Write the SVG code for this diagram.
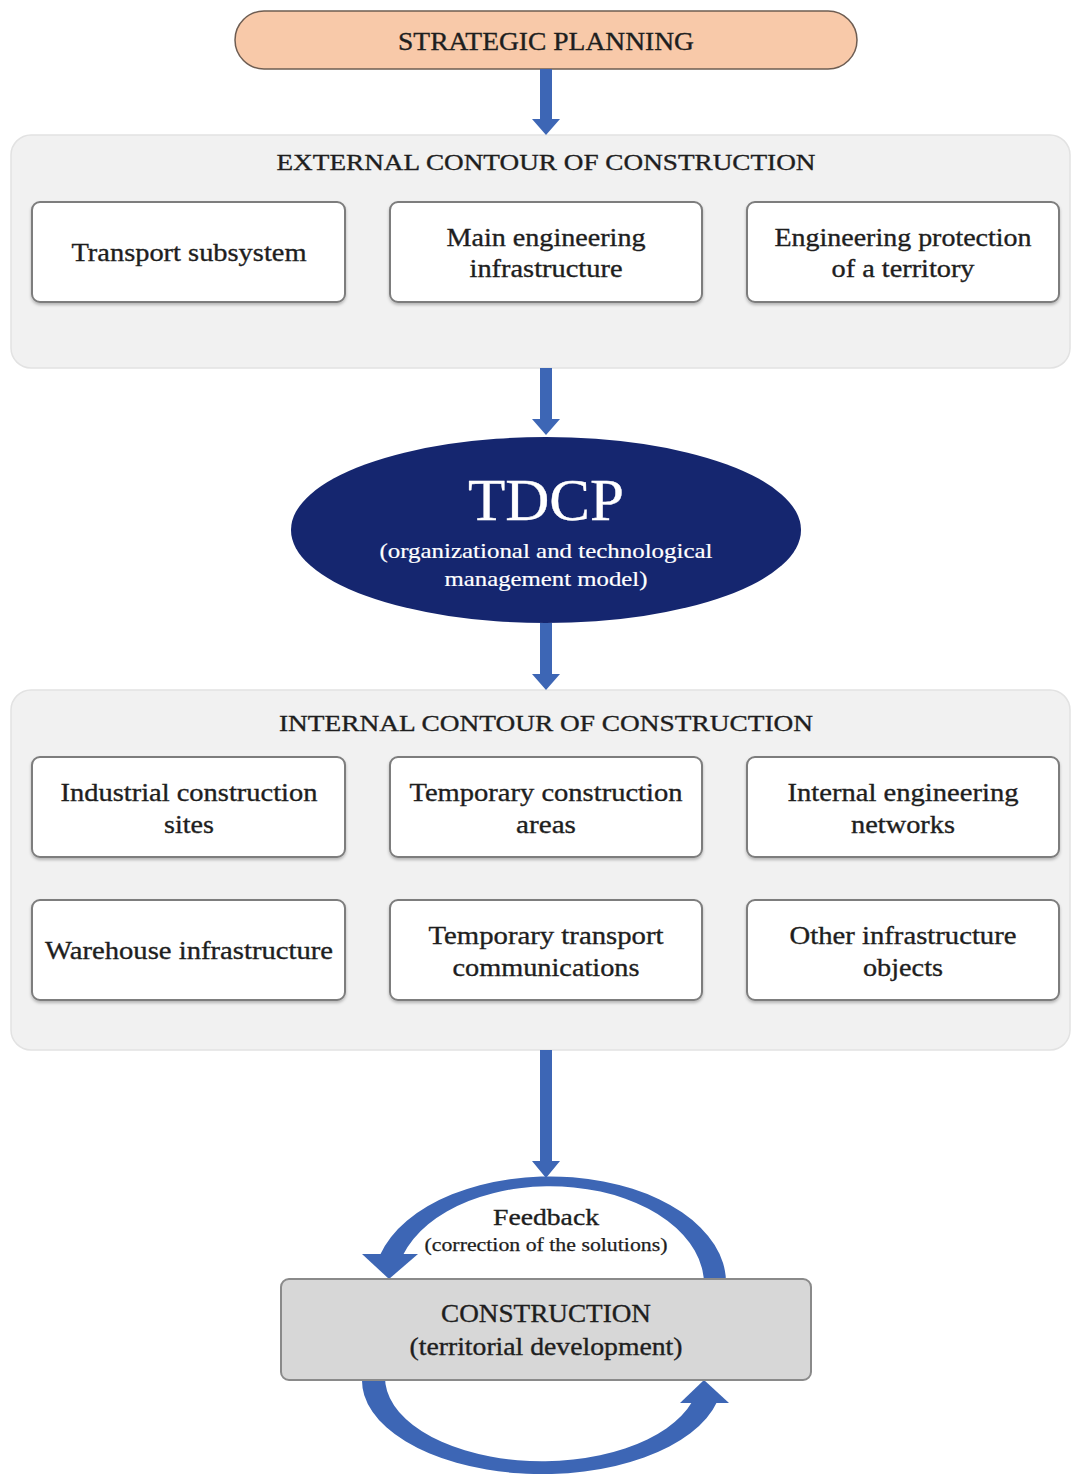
<svg xmlns="http://www.w3.org/2000/svg" width="1072" height="1474" viewBox="0 0 1072 1474">
<defs>
<style>
text{font-family:"Liberation Serif","Times New Roman",serif;fill:#1e1e1e;stroke:#1e1e1e;stroke-width:0.35;text-anchor:middle}
.panel{fill:#f1f1f1;stroke:#e2e2e2;stroke-width:1.5}
.box{fill:#fff;stroke:#7d7d7d;stroke-width:2}
.t26{font-size:26px}
.t24{font-size:24px}
.arr{fill:#3d66b5}
.w{fill:#fff;stroke:#fff}
</style>
<filter id="sh" x="-5%" y="-5%" width="110%" height="120%">
<feDropShadow dx="0" dy="2" stdDeviation="1.5" flood-color="#000" flood-opacity="0.25"/>
</filter>
</defs>
<rect width="1072" height="1474" fill="#fff"/>

<g id="strategic-planning">
<rect x="235" y="11" width="622" height="58" rx="29" fill="#f8c9a9" stroke="#6e5d52" stroke-width="1.5"/>
<text x="546" y="50" class="t26" textLength="296" lengthAdjust="spacingAndGlyphs">STRATEGIC PLANNING</text>
</g>

<g id="external-contour">
<rect class="panel" x="11" y="135" width="1059" height="233" rx="20"/>
<text x="546" y="170" class="t24" textLength="539" lengthAdjust="spacingAndGlyphs">EXTERNAL CONTOUR OF CONSTRUCTION</text>
</g>
<g id="transport-subsystem">
<rect class="box" x="32" y="202" width="313" height="100" rx="8" filter="url(#sh)"/>
<text x="189" y="261" class="t26" textLength="235" lengthAdjust="spacingAndGlyphs">Transport subsystem</text>
</g>
<g id="main-engineering">
<rect class="box" x="390" y="202" width="312" height="100" rx="8" filter="url(#sh)"/>
<text x="546" y="246" class="t26" textLength="199" lengthAdjust="spacingAndGlyphs">Main engineering</text>
<text x="546" y="277" class="t26" textLength="153" lengthAdjust="spacingAndGlyphs">infrastructure</text>
</g>
<g id="engineering-protection">
<rect class="box" x="747" y="202" width="312" height="100" rx="8" filter="url(#sh)"/>
<text x="903" y="246" class="t26" textLength="257" lengthAdjust="spacingAndGlyphs">Engineering protection</text>
<text x="903" y="277" class="t26" textLength="143" lengthAdjust="spacingAndGlyphs">of a territory</text>
</g>

<g id="tdcp">
<ellipse cx="546" cy="530" rx="255" ry="93" fill="#15266f"/>
<text x="546" y="520" class="w" style="font-size:60px" textLength="156" lengthAdjust="spacingAndGlyphs">TDCP</text>
<text x="546" y="558" class="w" style="font-size:22px;stroke-width:0.2" textLength="333" lengthAdjust="spacingAndGlyphs">(organizational and technological</text>
<text x="546" y="586" class="w" style="font-size:22px;stroke-width:0.2" textLength="203" lengthAdjust="spacingAndGlyphs">management model)</text>
</g>

<g id="internal-contour">
<rect class="panel" x="11" y="690" width="1059" height="360" rx="20"/>
<text x="546" y="731" class="t24" textLength="534" lengthAdjust="spacingAndGlyphs">INTERNAL CONTOUR OF CONSTRUCTION</text>
</g>
<g id="industrial-sites">
<rect class="box" x="32" y="757" width="313" height="100" rx="8" filter="url(#sh)"/>
<text x="189" y="801" class="t26" textLength="257" lengthAdjust="spacingAndGlyphs">Industrial construction</text>
<text x="189" y="833" class="t26" textLength="50" lengthAdjust="spacingAndGlyphs">sites</text>
</g>
<g id="temporary-areas">
<rect class="box" x="390" y="757" width="312" height="100" rx="8" filter="url(#sh)"/>
<text x="546" y="801" class="t26" textLength="273" lengthAdjust="spacingAndGlyphs">Temporary construction</text>
<text x="546" y="833" class="t26" textLength="60" lengthAdjust="spacingAndGlyphs">areas</text>
</g>
<g id="internal-networks">
<rect class="box" x="747" y="757" width="312" height="100" rx="8" filter="url(#sh)"/>
<text x="903" y="801" class="t26" textLength="231" lengthAdjust="spacingAndGlyphs">Internal engineering</text>
<text x="903" y="833" class="t26" textLength="104" lengthAdjust="spacingAndGlyphs">networks</text>
</g>
<g id="warehouse">
<rect class="box" x="32" y="900" width="313" height="100" rx="8" filter="url(#sh)"/>
<text x="189" y="959" class="t26" textLength="288" lengthAdjust="spacingAndGlyphs">Warehouse infrastructure</text>
</g>
<g id="temporary-transport">
<rect class="box" x="390" y="900" width="312" height="100" rx="8" filter="url(#sh)"/>
<text x="546" y="944" class="t26" textLength="235" lengthAdjust="spacingAndGlyphs">Temporary transport</text>
<text x="546" y="976" class="t26" textLength="187" lengthAdjust="spacingAndGlyphs">communications</text>
</g>
<g id="other-objects">
<rect class="box" x="747" y="900" width="312" height="100" rx="8" filter="url(#sh)"/>
<text x="903" y="944" class="t26" textLength="227" lengthAdjust="spacingAndGlyphs">Other infrastructure</text>
<text x="903" y="976" class="t26" textLength="80" lengthAdjust="spacingAndGlyphs">objects</text>
</g>

<g id="connectors">
<polygon class="arr" points="540,69 552,69 552,119 560,119 546,135 532,119 540,119"/>
<polygon class="arr" points="540,368 552,368 552,419 560,419 546,435 532,419 540,419"/>
<polygon class="arr" points="540,623 552,623 552,674 560,674 546,690 532,674 540,674"/>
<polygon class="arr" points="540,1050 552,1050 552,1161 560,1161 546,1178 532,1161 540,1161"/>
<path class="arr" d="M 726 1282 A 176 106 0 0 0 380 1255 L 403 1255 A 154 98 0 0 1 704 1285 Z"/>
<polygon class="arr" points="362,1254 418,1254 389,1279"/>
<path class="arr" d="M 362 1378 A 180 94 0 0 0 717 1402 L 692 1402 A 157 84 0 0 1 385 1376 Z"/>
<polygon class="arr" points="680,1403 729,1403 704,1380"/>
</g>

<g id="feedback-label">
<text x="546" y="1225" class="t24" textLength="106" lengthAdjust="spacingAndGlyphs">Feedback</text>
<text x="546" y="1251" style="font-size:18px;stroke-width:0.25" textLength="243" lengthAdjust="spacingAndGlyphs">(correction of the solutions)</text>
</g>

<g id="construction">
<rect x="281" y="1279" width="530" height="101" rx="8" fill="#d7d7d7" stroke="#8a8a8a" stroke-width="2"/>
<text x="546" y="1322" class="t26" textLength="210" lengthAdjust="spacingAndGlyphs">CONSTRUCTION</text>
<text x="546" y="1355" class="t26" textLength="273" lengthAdjust="spacingAndGlyphs">(territorial development)</text>
</g>
</svg>
